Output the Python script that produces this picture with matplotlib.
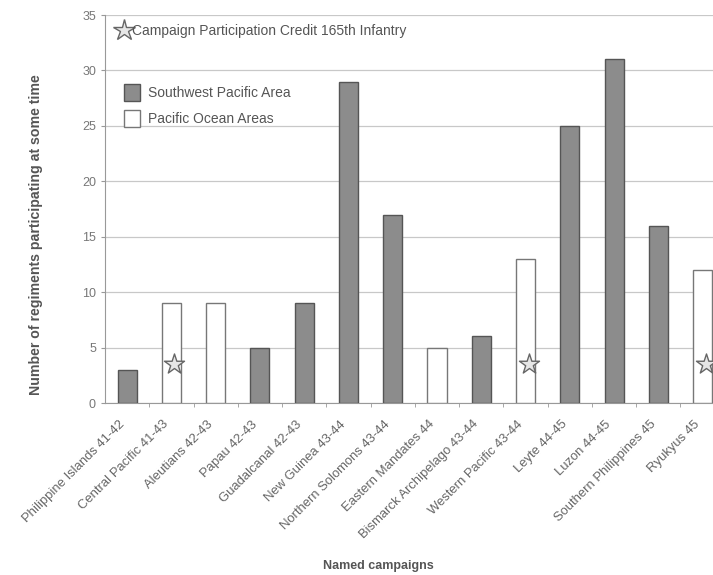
import matplotlib
matplotlib.use("Agg")
import matplotlib.pyplot as plt
from matplotlib.patches import Patch
from matplotlib.lines import Line2D

plt.rcParams['font.family'] = ['Liberation Sans', 'DejaVu Sans']

campaigns = ["Philippine Islands 41-42", "Central Pacific 41-43", "Aleutians 42-43",
             "Papau 42-43", "Guadalcanal 42-43", "New Guinea 43-44",
             "Northern Solomons 43-44", "Eastern Mandates 44", "Bismarck Archipelago 43-44",
             "Western Pacific 43-44", "Leyte 44-45", "Luzon 44-45",
             "Southern Philippines 45", "Ryukyus 45"]
regiments = [3, 9, 9, 5, 9, 29, 17, 5, 6, 13, 25, 31, 16, 12]
area = ["SWPA", "POA", "POA", "SWPA", "SWPA", "SWPA", "SWPA", "POA", "SWPA",
        "POA", "SWPA", "SWPA", "SWPA", "POA"]
credit_165th = ["Central Pacific 41-43", "Western Pacific 43-44", "Ryukyus 45"]
star_level = 3.5

txt = '#555555'
fig = plt.figure(figsize=(7.13, 5.75), dpi=100)
ax = fig.add_axes([105/713, 172/575, 610/713, 388/575])

x = list(range(len(campaigns)))
colors = ['#8c8c8c' if a == "SWPA" else 'white' for a in area]
edges = ['#555555' if a == "SWPA" else '#777777' for a in area]
ax.bar(x, regiments, width=0.43, color=colors, edgecolor=edges, linewidth=1.0, zorder=3)

sx = [campaigns.index(c) + 0.07 for c in credit_165th]
ax.scatter(sx, [star_level]*len(sx), marker='*', s=230, facecolor='#e6e6e6',
           edgecolor='#666666', linewidth=1.0, zorder=4)

ax.set_xlim(-0.5, 13.28)
ax.set_ylim(0, 35)
ax.set_yticks(range(0, 36, 5))
ax.yaxis.grid(True, color='#c8c8c8', linewidth=0.9, zorder=0)
ax.set_axisbelow(True)
for s in ['top', 'right']:
    ax.spines[s].set_visible(False)
ax.spines['left'].set_color('#999999')
ax.spines['bottom'].set_color('#999999')

# label anchors sit slightly left of the bar centres, as in the original
ax.set_xticks([i - 0.2 for i in x])
ax.set_xticklabels(campaigns, rotation=45, ha='right', rotation_mode='anchor',
                   fontsize=9.4, color='#666666')
ax.tick_params(axis='x', length=0, pad=11)
ax.set_xticks([i + 0.5 for i in x[:-1]], minor=True)
ax.tick_params(axis='x', which='minor', length=3, color='#999999')
ax.tick_params(axis='y', length=3, color='#999999', labelsize=9, labelcolor='#777777')

ax.set_ylabel("Number of regiments participating at some time", fontsize=10.2,
              fontweight='bold', color=txt)
ax.yaxis.set_label_coords(-0.102, 0.433)
ax.set_xlabel("Named campaigns", fontsize=9, fontweight='bold', color=txt)
ax.xaxis.set_label_coords(0.448, -0.405)

star_h = [Line2D([], [], marker='*', linestyle='none', markersize=16,
                 markerfacecolor='#e6e6e6', markeredgecolor='#666666')]
leg1 = ax.legend(star_h, ["Campaign Participation Credit 165th Infantry"],
                 loc='upper left', bbox_to_anchor=(-0.012, 1.01), frameon=False,
                 fontsize=10, handletextpad=-0.4, labelcolor=txt)
ax.add_artist(leg1)
patch_h = [Patch(facecolor='#8c8c8c', edgecolor='#555555'),
           Patch(facecolor='white', edgecolor='#777777')]
ax.legend(patch_h, ["Southwest Pacific Area", "Pacific Ocean Areas"],
          loc='upper left', bbox_to_anchor=(0.0105, 0.855), frameon=False,
          fontsize=10, handlelength=1.15, handleheight=1.5, labelspacing=0.65,
          handletextpad=0.6, labelcolor=txt)

fig.savefig("out.png", dpi=100)
